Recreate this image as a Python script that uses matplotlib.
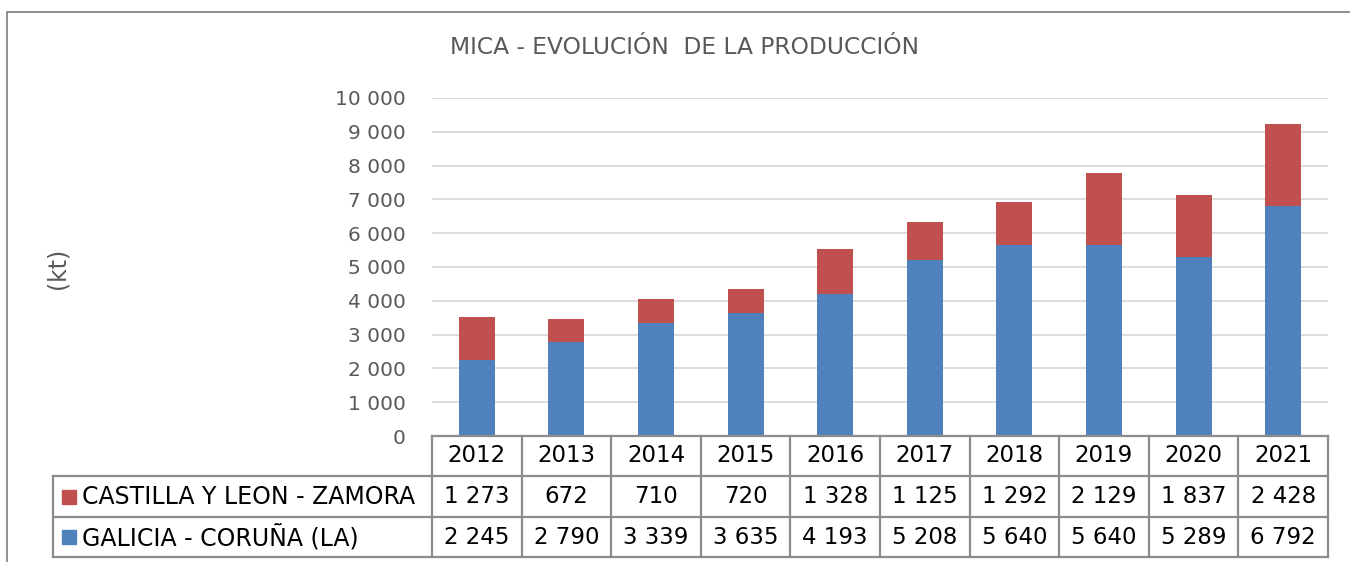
import matplotlib
matplotlib.use("Agg")
import matplotlib.pyplot as plt
from matplotlib.patches import Rectangle
from matplotlib.lines import Line2D
import numpy as np

years = ["2012", "2013", "2014", "2015", "2016", "2017", "2018", "2019", "2020", "2021"]
series_names = ["CASTILLA Y LEON - ZAMORA", "GALICIA - CORUÑA (LA)"]
castilla = [1273, 672, 710, 720, 1328, 1125, 1292, 2129, 1837, 2428]
galicia = [2245, 2790, 3339, 3635, 4193, 5208, 5640, 5640, 5289, 6792]
yticks = [0, 1000, 2000, 3000, 4000, 5000, 6000, 7000, 8000, 9000, 10000]
title = "MICA - EVOLUCIÓN  DE LA PRODUCCIÓN"
ylabel = "(kt)"

BLUE = "#4F81BD"
RED = "#C0504D"
GRID = "#D9D9D9"
TCOL = "#595959"
LINE = "#8C8C8C"

W, H = 1350, 562
fig = plt.figure(figsize=(W / 100, H / 100), dpi=100)
plt.rcParams['font.family'] = ['DejaVu Sans']

def fx(px):
    return px / W

def fy(py):
    return 1 - py / H

# outer frame
fig.patches.append(Rectangle((fx(7), fy(600)), fx(1400), fy(12) - fy(600),
                             transform=fig.transFigure, fill=False,
                             edgecolor="#878787", lw=1.3))

ax_l, ax_r, ax_t, ax_b = 432, 1328, 98, 436
ax = fig.add_axes([fx(ax_l), fy(ax_b), fx(ax_r - ax_l), fy(ax_t) - fy(ax_b)])
x = np.arange(len(years))
ax.bar(x, galicia, width=0.4, color=BLUE, zorder=3)
ax.bar(x, castilla, width=0.4, bottom=galicia, color=RED, zorder=3)
ax.set_xlim(-0.5, len(years) - 0.5)
ax.set_ylim(0, 10000)
ax.set_yticks(yticks)
ax.set_yticklabels([f"{v:,}".replace(",", " ") for v in yticks], color=TCOL, fontsize=14.5)
ax.tick_params(axis='y', length=0, pad=19)
ax.set_xticks([])
ax.grid(axis='y', color=GRID, lw=1.3, zorder=0)
for s in ax.spines.values():
    s.set_visible(False)

fig.text(fx(684), fy(48), title, ha='center', va='center', color=TCOL, fontsize=16.8)
fig.text(fx(57), fy(268), ylabel, ha='center', va='center', rotation=90, color=TCOL, fontsize=17)

# data table
rows_y = [436, 476, 517, 557]
leg_l = 53
col_w = (ax_r - ax_l) / len(years)

def hline(x0, x1, y):
    fig.add_artist(Line2D([fx(x0), fx(x1)], [fy(y), fy(y)], transform=fig.transFigure,
                          color=LINE, lw=1.6))

def vline(xp, y0, y1):
    fig.add_artist(Line2D([fx(xp), fx(xp)], [fy(y0), fy(y1)], transform=fig.transFigure,
                          color=LINE, lw=1.6))

hline(ax_l, ax_r, rows_y[0])
for yy in rows_y[1:]:
    hline(leg_l, ax_r, yy)
vline(leg_l, rows_y[1], rows_y[3])
for i in range(len(years) + 1):
    vline(ax_l + i * col_w, rows_y[0], rows_y[3])

fs_tab = 16.5
for i, yr in enumerate(years):
    cx = ax_l + (i + 0.5) * col_w
    fig.text(fx(cx), fy((rows_y[0] + rows_y[1]) / 2), yr, ha='center', va='center',
             fontsize=fs_tab, color='black')
    for r, vals in enumerate([castilla, galicia]):
        cy = (rows_y[r + 1] + rows_y[r + 2]) / 2
        fig.text(fx(cx), fy(cy), f"{vals[i]:,}".replace(",", " "), ha='center', va='center',
                 fontsize=fs_tab, color='black')

for r, (name, col) in enumerate(zip(series_names, [RED, BLUE])):
    cy = (rows_y[r + 1] + rows_y[r + 2]) / 2
    fig.patches.append(Rectangle((fx(62), fy(cy + 7)), fx(14), fy(cy - 7) - fy(cy + 7),
                                 transform=fig.transFigure, color=col))
    fig.text(fx(82), fy(cy), name, ha='left', va='center', fontsize=17, color='black')

fig.savefig("out.png", dpi=100)
